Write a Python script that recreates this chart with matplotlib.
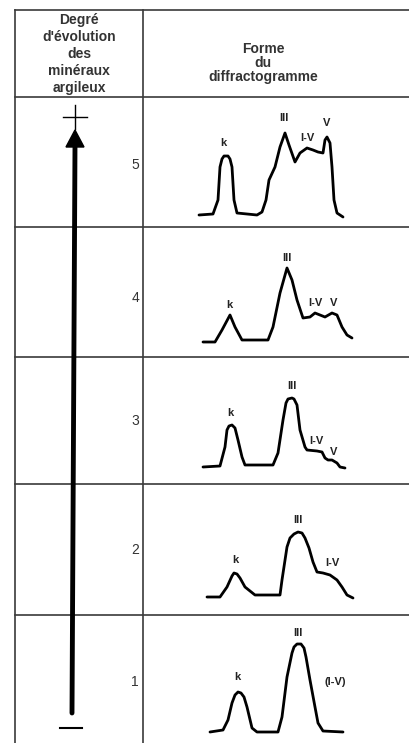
import matplotlib.pyplot as plt

plt.rcParams['font.family'] = ['Liberation Sans', 'DejaVu Sans']

# header texts
left_header = ['Degré', "d'évolution", 'des', 'minéraux', 'argileux']
right_header = ['Forme', 'du', 'diffractogramme']

# degree of evolution, top to bottom
degrees = ['5', '4', '3', '2', '1']

# diffractogram shapes (x, y), one per row, in pixels
curve_x = {
    '5': [199, 213, 218, 220, 222, 224, 228, 230, 232, 234, 237, 257, 262, 266, 269, 275, 280, 285, 289, 295, 300, 307, 313, 318, 323, 325, 327, 330, 332, 334, 337, 343],
    '4': [203, 215, 222, 230, 235, 242, 268, 273, 280, 287, 292, 297, 303, 310, 315, 320, 325, 332, 337, 342, 347, 352],
    '3': [203, 220, 225, 227, 229, 232, 235, 238, 242, 245, 273, 278, 283, 286, 288, 292, 294, 297, 300, 305, 307, 317, 322, 325, 328, 332, 337, 340, 345],
    '2': [207, 220, 227, 232, 234, 237, 240, 245, 255, 280, 282, 287, 290, 294, 298, 302, 305, 309, 313, 317, 323, 330, 337, 342, 347, 353],
    '1': [210, 223, 228, 232, 235, 238, 241, 244, 247, 252, 257, 278, 282, 287, 292, 294, 297, 301, 304, 306, 310, 315, 318, 323, 343],
}
curve_y = {
    '5': [215, 214, 200, 167, 159, 156, 156, 159, 167, 200, 213, 215, 212, 200, 180, 167, 147, 133, 145, 162, 153, 148, 150, 152, 153, 140, 137, 143, 167, 200, 213, 217],
    '4': [342, 342, 330, 315, 327, 340, 340, 327, 293, 268, 280, 300, 318, 317, 313, 315, 317, 313, 315, 327, 335, 338],
    '3': [467, 466, 447, 430, 426, 425, 428, 440, 457, 465, 465, 453, 420, 403, 399, 398, 399, 405, 430, 447, 450, 451, 452, 458, 460, 460, 463, 467, 468],
    '2': [597, 597, 587, 576, 573, 574, 578, 587, 595, 595, 580, 547, 538, 534, 532, 533, 538, 548, 562, 572, 573, 575, 580, 587, 595, 598],
    '1': [732, 730, 720, 703, 695, 692, 693, 697, 707, 728, 732, 732, 717, 677, 653, 647, 644, 644, 648, 657, 680, 707, 723, 731, 732],
}

# peak labels: (text, x, y)
peak_labels = {
    '5': [('k', 223, 143), ('III', 284, 118), ('I-V', 307, 138), ('V', 327, 123)],
    '4': [('k', 229, 305), ('III', 287, 258), ('I-V', 315, 303), ('V', 334, 303)],
    '3': [('k', 230, 413), ('III', 292, 386), ('I-V', 316, 441), ('V', 334, 452)],
    '2': [('k', 235, 560), ('III', 298, 520), ('I-V', 332, 563)],
    '1': [('k', 237, 677), ('III', 298, 633), ('(I-V)', 335, 682)],
}

row_lines = [10, 97, 227, 357, 484, 615]
row_num_y = [165, 298, 421, 550, 682]

fig = plt.figure(figsize=(4.09, 7.43), dpi=100)
ax = fig.add_axes([0, 0, 1, 1])
ax.set_xlim(0, 409)
ax.set_ylim(743, 0)
ax.axis('off')

grid_c = '#3a3a3a'
# table frame
for y in row_lines:
    ax.plot([15, 409], [y, y], color=grid_c, lw=1.2)
ax.plot([15, 15], [10, 743], color=grid_c, lw=1.2)
ax.plot([143, 143], [10, 743], color=grid_c, lw=1.2)

# header
for i, t in enumerate(left_header):
    ax.text(79, 20 + 17 * i, t, ha='center', va='center', fontsize=10,
            fontweight='bold', color='#333333')
for i, t in enumerate(right_header):
    ax.text(263, 49 + 14 * i, t, ha='center', va='center', fontsize=10,
            fontweight='bold', color='#333333')

# evolution arrow with + and -
ax.plot([72, 75], [713, 145], color='black', lw=3.5, solid_capstyle='round')
ax.fill([66, 84, 75], [147, 147, 130], color='black')
ax.plot([63, 87], [117, 117], color='black', lw=1.0)
ax.plot([75, 75], [105, 129], color='black', lw=1.0)
ax.plot([60, 82], [728, 728], color='black', lw=1.5)

for d, y in zip(degrees, row_num_y):
    ax.text(135, y, d, ha='center', va='center', fontsize=10, color='#333333')
    ax.plot(curve_x[d], curve_y[d], color='black', lw=2.0,
            solid_joinstyle='round', solid_capstyle='round')
    for t, x, ty in peak_labels[d]:
        ax.text(x, ty, t, ha='center', va='center', fontsize=8,
                fontweight='bold', color='#222222')

fig.savefig('out.png', dpi=100)
